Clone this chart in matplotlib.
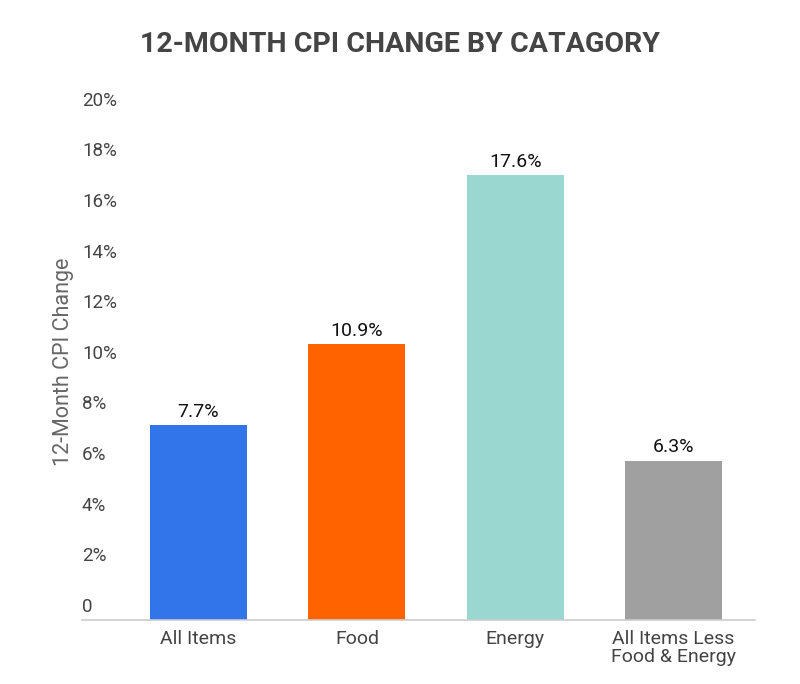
import matplotlib
matplotlib.use('Agg')
import matplotlib.pyplot as plt
import matplotlib.transforms as mtransforms

categories = ['All Items', 'Food', 'Energy', 'All Items Less\nFood & Energy']
values = [7.7, 10.9, 17.6, 6.3]
colors = ['#3274E9', '#FF6300', '#9AD7D0', '#A0A0A0']
yticks = [0, 2, 4, 6, 8, 10, 12, 14, 16, 18, 20]
ytick_labels = ['0'] + ['%d%%' % t for t in yticks[1:]]

plt.rcParams['font.family'] = ['Roboto', 'DejaVu Sans']

fig = plt.figure(figsize=(8, 6.84), dpi=100)
ax = fig.add_axes([0.1025, 0.0936, 0.8415, 0.7398])

x = list(range(len(categories)))
bars = ax.bar(x, values, width=0.613, color=colors)
for b, v in zip(bars, values):
    ax.annotate('%.1f%%' % v, (b.get_x() + b.get_width() / 2, v),
                xytext=(0, 3), textcoords='offset points',
                ha='center', va='bottom', fontsize=14, color='#111111')

ax.set_xlim(-0.736, 3.515)
ax.set_ylim(0, 20)
ax.set_xticks(x)
ax.set_xticklabels(categories, fontsize=14, color='#444444', linespacing=1.05)
ax.set_yticks(yticks)
ax.set_yticklabels(ytick_labels, fontsize=13.5, color='#444444')
ax.tick_params(axis='x', length=0, pad=7)
ax.tick_params(axis='y', length=0, pad=0)
offset = mtransforms.ScaledTranslation(0, 3 / 72, fig.dpi_scale_trans)
for lab in ax.get_yticklabels():
    lab.set_horizontalalignment('left')
    lab.set_verticalalignment('bottom')
    lab.set_transform(lab.get_transform() + offset)

for s in ['top', 'right', 'left']:
    ax.spines[s].set_visible(False)
ax.spines['bottom'].set_color('#CCCCCC')
ax.spines['bottom'].set_linewidth(1.2)

fig.text(0.08, 0.471, '12-Month CPI Change', rotation=90, ha='center', va='center',
         fontsize=15.5, color='#666666')
fig.text(0.5, 0.935, '12-MONTH CPI CHANGE BY CATAGORY', ha='center', va='center',
         fontsize=20.5, fontweight='bold', color='#444444')

fig.savefig('out.png', dpi=100)
